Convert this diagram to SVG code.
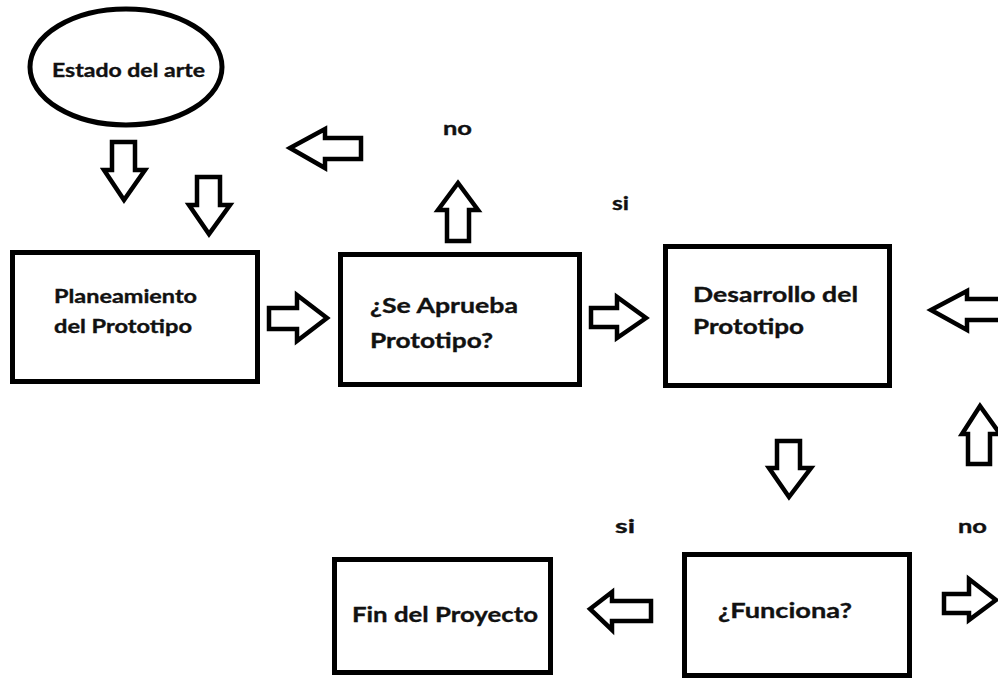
<svg xmlns="http://www.w3.org/2000/svg" width="998" height="679" viewBox="0 0 998 679">
<style>
.box{fill:#fff;stroke:#000;stroke-width:5}
.arr{fill:#fff;stroke:#000;stroke-width:4.5;stroke-linejoin:miter}
text{font-family:"Lato","Open Sans","Liberation Sans",sans-serif;font-weight:700;fill:#111;stroke:#111;stroke-width:0.35}
.s18{font-size:18.5px}
.s21{font-size:21.5px}
</style>
<rect width="998" height="679" fill="#fff"/>
<g id="connectors">
<polygon class="arr" points="112,142 135,142 135,170 145,170 124,200 104,170 112,170"/>
<polygon class="arr" points="197,177 220,177 220,205 230,205 209,234 189,205 197,205"/>
<polygon class="arr" points="290,148 325,129 325,138 361,138 361,159 325,159 325,168"/>
<polygon class="arr" points="269,308 297,308 297,295 327,318 297,341 297,329 269,329"/>
<polygon class="arr" points="447,241 447,210 438,210 458,183 478,210 469,210 469,241"/>
<polygon class="arr" points="591,308 617,308 617,297 646,318 617,338 617,327 591,327"/>
<polygon class="arr" points="931,310 967,291 967,299 1004,299 1004,320 967,320 967,330"/>
<polygon class="arr" points="968,464 968,434 962,434 980,406 1000,434 990,434 990,464"/>
<polygon class="arr" points="777,441 800,441 800,468 811,468 789,497 769,468 777,468"/>
<polygon class="arr" points="590,609 612,592 612,601 651,601 651,621 612,621 612,630"/>
<polygon class="arr" points="944,594 969,594 969,579 996,600 969,620 969,613 944,613"/>
</g>
<g id="labels">
<text class="s18" x="443" y="135" textLength="29" lengthAdjust="spacingAndGlyphs">no</text>
<text class="s18" x="612" y="210" textLength="17" lengthAdjust="spacingAndGlyphs">si</text>
<text class="s18" x="615" y="533" textLength="20" lengthAdjust="spacingAndGlyphs">si</text>
<text class="s18" x="958" y="533" textLength="29" lengthAdjust="spacingAndGlyphs">no</text>
</g>
<g id="estado">
<ellipse class="box" cx="126" cy="67" rx="96" ry="58"/>
<text class="s18" x="52" y="77" textLength="153" lengthAdjust="spacingAndGlyphs">Estado del arte</text>
</g>
<g id="planeamiento">
<rect class="box" x="12.5" y="252.5" width="245" height="129"/>
<text class="s18" x="54" y="303" textLength="143" lengthAdjust="spacingAndGlyphs">Planeamiento</text>
<text class="s18" x="54" y="333" textLength="138" lengthAdjust="spacingAndGlyphs">del Prototipo</text>
</g>
<g id="aprueba">
<rect class="box" x="340.5" y="254.5" width="239" height="130"/>
<text class="s21" x="370" y="313" textLength="148" lengthAdjust="spacingAndGlyphs">¿Se Aprueba</text>
<text class="s21" x="370" y="348" textLength="123" lengthAdjust="spacingAndGlyphs">Prototipo?</text>
</g>
<g id="desarrollo">
<rect class="box" x="665.5" y="246.5" width="224" height="139"/>
<text class="s21" x="693" y="302" textLength="165" lengthAdjust="spacingAndGlyphs">Desarrollo del</text>
<text class="s21" x="693" y="334" textLength="111" lengthAdjust="spacingAndGlyphs">Prototipo</text>
</g>
<g id="funciona">
<rect class="box" x="684.5" y="554.5" width="225" height="121"/>
<text class="s21" x="718" y="618" textLength="134" lengthAdjust="spacingAndGlyphs">¿Funciona?</text>
</g>
<g id="fin">
<rect class="box" x="334.5" y="559.5" width="216" height="113"/>
<text class="s21" x="352" y="622" textLength="186" lengthAdjust="spacingAndGlyphs">Fin del Proyecto</text>
</g>
</svg>
